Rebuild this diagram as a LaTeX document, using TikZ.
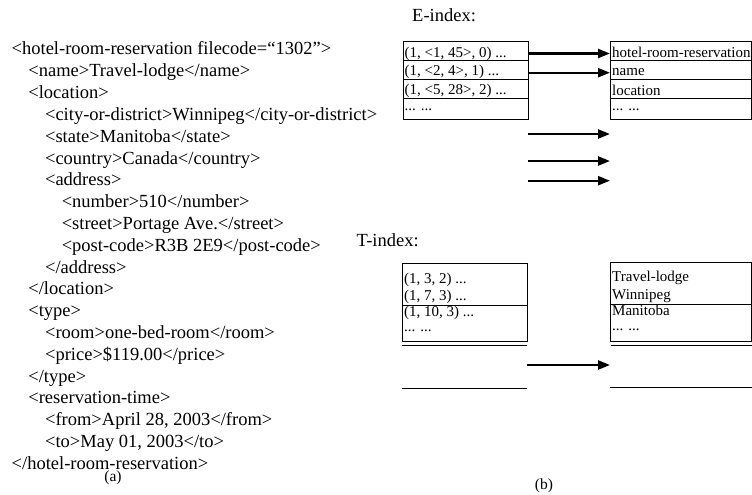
\documentclass[tikz,border=0pt]{standalone}
\usepackage{fontspec}
\setmainfont{Liberation Serif}
\usetikzlibrary{arrows.meta}
\newcommand\xmlsize{\fontsize{18.5}{21.5}\selectfont}
\newcommand\cellsize{\fontsize{15}{17}\selectfont}
\newcommand\capsize{\fontsize{15.5}{18}\selectfont}
\begin{document}
\begin{tikzpicture}[x=1pt,y=-1pt,
  xml/.style={anchor=base west, inner sep=0pt, font=\xmlsize},
  cell/.style={anchor=base west, inner sep=0pt, font=\cellsize},
  caption/.style={anchor=base, inner sep=0pt, font=\capsize},
  frame/.style={draw, line width=1pt},
  rule/.style={line width=1pt},
  ptr/.style={line width=2.3pt, -{Triangle[length=12pt,width=9pt]}}]
\useasboundingbox (0,0) rectangle (752,495);

% ---------- (a) the XML document ----------
\node[xml] (x0)  at (11.5,55)    {<hotel-room-reservation filecode=“1302”>};
\node[xml] (x1)  at (28.2,76.8)  {<name>Travel-lodge</name>};
\node[xml] (x2)  at (28.2,98.6)  {<location>};
\node[xml] (x3)  at (44.9,120.4) {<city-or-district>Winnipeg</city-or-district>};
\node[xml] (x4)  at (44.9,142.2) {<state>Manitoba</state>};
\node[xml] (x5)  at (44.9,164)   {<country>Canada</country>};
\node[xml] (x6)  at (44.9,185.8) {<address>};
\node[xml] (x7)  at (61.6,207.6) {<number>510</number>};
\node[xml] (x8)  at (61.6,229.4) {<street>Portage Ave.</street>};
\node[xml] (x9)  at (61.6,251.2) {<post-code>R3B 2E9</post-code>};
\node[xml] (x10) at (44.9,273)   {</address>};
\node[xml] (x11) at (28.2,294.8) {</location>};
\node[xml] (x12) at (28.2,316.6) {<type>};
\node[xml] (x13) at (44.9,338.4) {<room>one-bed-room</room>};
\node[xml] (x14) at (44.9,360.2) {<price>\$119.00</price>};
\node[xml] (x15) at (28.2,382)   {</type>};
\node[xml] (x16) at (28.2,403.8) {<reservation-time>};
\node[xml] (x17) at (44.9,425.6) {<from>April 28, 2003</from>};
\node[xml] (x18) at (44.9,447.4) {<to>May 01, 2003</to>};
\node[xml] (x19) at (11.5,469.2) {</hotel-room-reservation>};
\node[caption] (capa) at (113,481) {(a)};

% ---------- (b) E-index ----------
\node[xml] (elabel) at (412,22) {E-index:};

% element table
\draw[frame] (403,41.5) rectangle (528,119.3);
\draw[rule] (403,61) -- (528,61);
\draw[rule] (403,79.5) -- (528,79.5);
\draw[rule] (403,98.5) -- (528,98.5);
\node[cell] (e1) at (404.5,57.5) {(1, <1, 45>, 0) ...};
\node[cell] (e2) at (404.5,76)   {(1, <2, 4>, 1) ...};
\node[cell] (e3) at (404.5,95)   {(1, <5, 28>, 2) ...};
\node[cell] (e4) at (404.5,110)  {... ...};

% tag-name table
\draw[frame] (610,41.5) rectangle (751,119.3);
\draw[rule] (610,61) -- (751,61);
\draw[rule] (610,79.5) -- (751,79.5);
\draw[rule] (610,98.5) -- (751,98.5);
\node[cell] (n1) at (612,57.5) {hotel-room-reservation};
\node[cell] (n2) at (612,76)   {name};
\node[cell] (n3) at (612,95.5) {location};
\node[cell] (n4) at (612,110)  {... ...};

% pointers
\coordinate (ep1) at (528,53.5);  \coordinate (np1) at (610,53.5);
\coordinate (ep2) at (528,72.7);  \coordinate (np2) at (610,72.7);
\coordinate (ep3) at (528,134);   \coordinate (np3) at (610,134);
\coordinate (ep4) at (528,161);   \coordinate (np4) at (610,161);
\coordinate (ep5) at (528,180.7); \coordinate (np5) at (610,180.7);
\draw[ptr] (ep1) -- (np1);
\draw[ptr] (ep2) -- (np2);
\draw[ptr] (ep3) -- (np3);
\draw[ptr] (ep4) -- (np4);
\draw[ptr] (ep5) -- (np5);

% ---------- (b) T-index ----------
\node[xml] (tlabel) at (356.5,246) {T-index:};

% text-position table
\draw[frame] (402,263.5) rectangle (527,341);
\draw[rule] (402,305.5) -- (527,305.5);
\draw[rule] (402,345.5) -- (527,345.5);
\draw[rule] (402,388) -- (527,388);
\node[cell] (t1) at (404,283)   {(1, 3, 2) ...};
\node[cell] (t2) at (404,300.5) {(1, 7, 3) ...};
\node[cell] (t3) at (404,316)   {(1, 10, 3) ...};
\node[cell] (t4) at (404,331)   {... ...};

% text-value table
\draw[frame] (610,262.5) rectangle (751,341);
\draw[rule] (610,304.5) -- (751,304.5);
\draw[rule] (611,345) -- (752,345);
\draw[rule] (610,387) -- (752,387);
\node[cell] (v1) at (612,281.5) {Travel-lodge};
\node[cell] (v2) at (612,299)   {Winnipeg};
\node[cell] (v3) at (612,315)   {Manitoba};
\node[cell] (v4) at (612,330)   {... ...};

\coordinate (tp) at (527,365); \coordinate (vp) at (610,365);
\draw[ptr] (tp) -- (vp);

\node[caption] (capb) at (544,489) {(b)};
\end{tikzpicture}
\end{document}
